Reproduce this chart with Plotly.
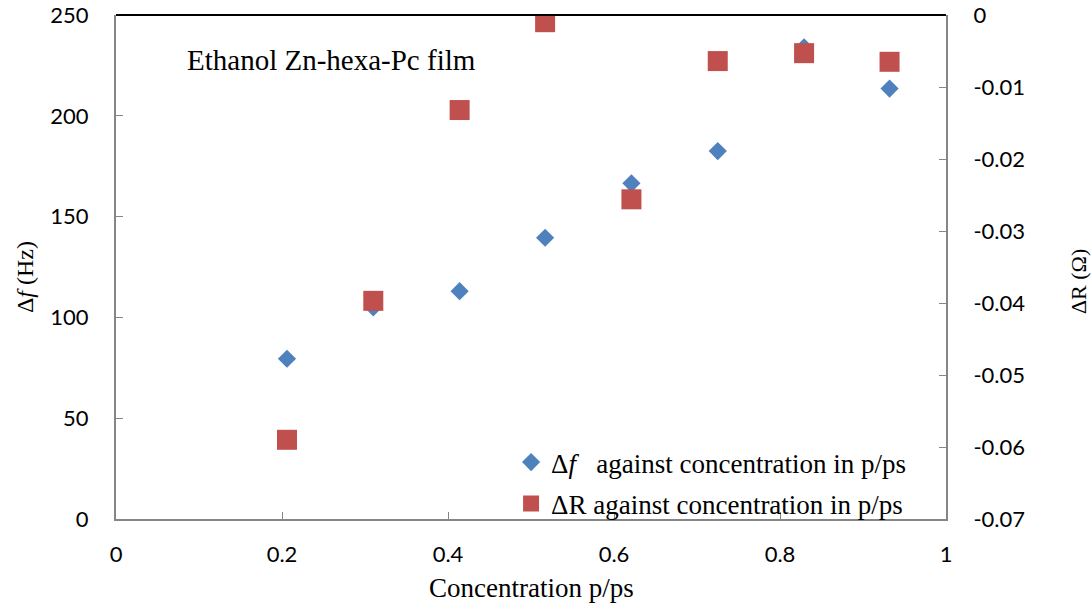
import plotly.graph_objects as go

conc = [0.206, 0.310, 0.414, 0.517, 0.621, 0.725, 0.829, 0.932]
delta_f = [79.5, 105, 113, 139.5, 166.5, 182.5, 234, 213.5]
delta_r = [-0.0590, -0.0397, -0.0132, -0.0010, -0.0256, -0.0064, -0.0053, -0.0065]

x_ticks = [0, 0.2, 0.4, 0.6, 0.8, 1]
y_ticks = [0, 50, 100, 150, 200, 250]
y2_ticks = [0, -0.01, -0.02, -0.03, -0.04, -0.05, -0.06, -0.07]

BLUE = "#4F81BD"
RED = "#C0504D"
SERIF = "Liberation Serif, Times New Roman, serif"
SANS = "Lato, Open Sans, sans-serif"
AXIS_GRAY = "#868686"

fig = go.Figure()
fig.add_trace(go.Scatter(
    x=conc, y=delta_f, mode="markers",
    name="Δ<i>f</i>   against concentration in p/ps", legend="legend",
    marker=dict(symbol="diamond", size=14, color=BLUE),
))
fig.add_trace(go.Scatter(
    x=conc, y=delta_r, mode="markers", yaxis="y2",
    name="ΔR against concentration in p/ps", legend="legend2",
    marker=dict(symbol="square", size=20, color=RED),
))

legend_common = dict(
    xanchor="left", yanchor="middle",
    font=dict(family=SERIF, size=27, color="black"),
    bgcolor="rgba(0,0,0,0)", itemwidth=30, borderwidth=0,
)

fig.update_layout(
    width=1091, height=610,
    margin=dict(l=116, r=145, t=15, b=91),
    paper_bgcolor="white", plot_bgcolor="white",
    showlegend=True,
    legend=dict(x=0.476, y=0.112, **legend_common),
    legend2=dict(x=0.476, y=0.03, **legend_common),
    xaxis=dict(
        range=[0, 1], tickvals=x_ticks,
        ticktext=["0", "0.2", "0.4", "0.6", "0.8", "1"],
        showgrid=False, zeroline=False, automargin=False,
        showline=True, linecolor=AXIS_GRAY, linewidth=2,
        ticks="inside", ticklen=7, tickcolor=AXIS_GRAY,
        ticklabelstandoff=15, ticklabeloverflow="allow",
        tickfont=dict(family=SANS, size=22, color="black"),
    ),
    yaxis=dict(
        range=[0, 250], tickvals=y_ticks,
        showgrid=False, zeroline=False, automargin=False,
        showline=True, linecolor=AXIS_GRAY, linewidth=2,
        ticks="inside", ticklen=7, tickcolor=AXIS_GRAY,
        ticklabelstandoff=21, ticklabeloverflow="allow",
        tickfont=dict(family=SANS, size=22, color="black"),
    ),
    yaxis2=dict(
        range=[-0.07, 0], tickvals=y2_ticks,
        ticktext=["0" if v == 0 else f"{v:.2f}" for v in y2_ticks],
        overlaying="y", side="right",
        showgrid=False, zeroline=False, automargin=False,
        showline=True, linecolor=AXIS_GRAY, linewidth=2,
        ticks="inside", ticklen=7, tickcolor=AXIS_GRAY,
        ticklabelstandoff=21, ticklabeloverflow="allow",
        tickfont=dict(family=SANS, size=22, color="black"),
    ),
    shapes=[dict(type="line", xref="paper", yref="paper", x0=0, x1=1, y0=1, y1=1,
                 line=dict(color="black", width=2))],
    annotations=[
        dict(text="Ethanol Zn-hexa-Pc film", xref="paper", yref="paper",
             x=0.083, y=0.911, xanchor="left", yanchor="middle", showarrow=False,
             font=dict(family=SERIF, size=29, color="black")),
        dict(text="Concentration p/ps", xref="paper", yref="paper",
             x=0.50, y=-0.137, xanchor="center", yanchor="middle", showarrow=False,
             font=dict(family=SERIF, size=27, color="black")),
        dict(text="Δ<i>f</i> (Hz)", xref="paper", yref="paper", textangle=-90,
             x=-0.1096, y=0.48, xanchor="center", yanchor="middle", showarrow=False,
             font=dict(family=SERIF, size=24, color="black")),
        dict(text="ΔR (Ω)", xref="paper", yref="paper", textangle=-90,
             x=1.159, y=0.472, xanchor="center", yanchor="middle", showarrow=False,
             font=dict(family=SERIF, size=22, color="black")),
    ],
)

# Remove the browser's default body margin so the figure fills the window exactly.
fig.write_html(
    "out.html",
    config={"displayModeBar": False},
    post_script="document.body.style.margin='0';document.body.style.overflow='hidden';",
)
